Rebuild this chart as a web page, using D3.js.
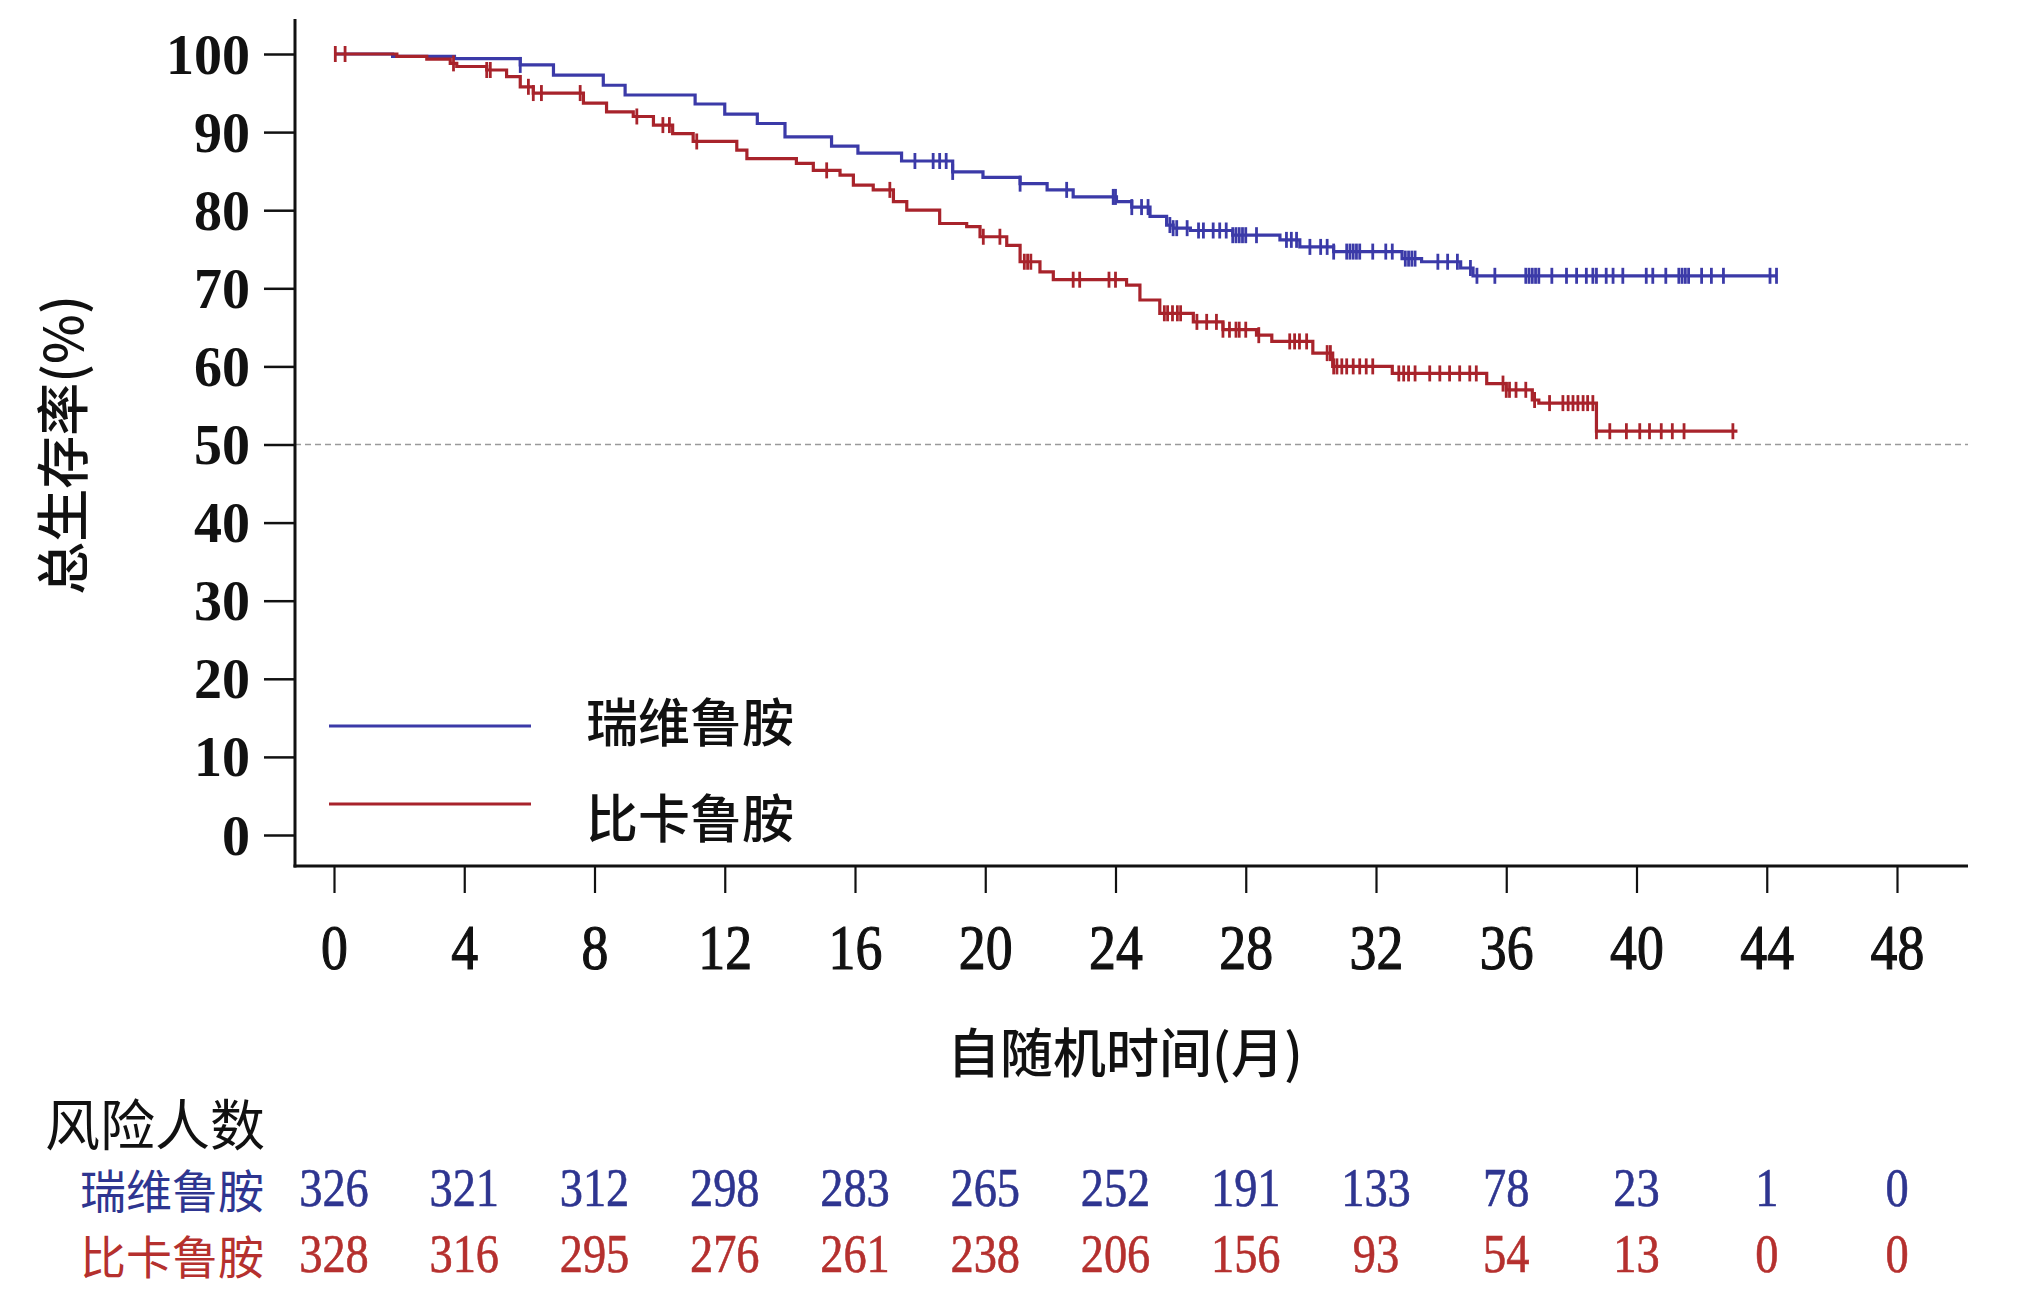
<!DOCTYPE html>
<html>
<head>
<meta charset="utf-8">
<script src="https://cdn.jsdelivr.net/npm/d3@7"></script>
<style>
  html, body { margin: 0; padding: 0; background: #fff; }
  svg { display: block; }
</style>
</head>
<body>
<div id="chart"></div>
<script>
// step points of each KM curve: [month, survival %]
const blueSteps = [[0,100],[1.8,99.7],[3.7,99.4],[5.72,98.6],[6.74,97.3],[8.27,96.0],[8.94,94.75],[11.09,93.6],[12.0,92.3],[13.0,91.1],[13.85,89.4],[15.28,88.2],[16.09,87.3],[17.43,86.3],[19.0,84.9],[19.93,84.2],[21.07,83.4],[21.9,82.6],[22.7,81.7],[24.03,81.1],[24.5,80.4],[25.06,79.2],[25.57,78.1],[25.77,77.7],[26.3,77.4],[27.6,76.8],[29.05,76.2],[29.66,75.3],[30.7,74.7],[32.8,73.8],[33.4,73.4],[34.6,72.6],[34.98,71.6],[44.3,71.6]];
const redSteps = [[0,100],[1.93,99.7],[2.85,99.35],[3.57,98.8],[3.77,98.4],[4.69,97.95],[5.3,97.1],[5.72,95.8],[6.12,95.0],[7.66,93.7],[8.37,92.6],[9.19,92.0],[9.81,90.9],[10.4,89.8],[11.03,88.8],[12.37,87.7],[12.68,86.6],[14.2,86.0],[14.72,85.1],[15.54,84.5],[15.95,83.2],[16.56,82.6],[17.18,81.1],[17.59,80.0],[18.6,78.3],[19.43,77.9],[19.84,76.6],[20.66,75.5],[21.07,73.4],[21.68,72.1],[22.09,71.1],[24.34,70.4],[24.75,68.5],[25.36,66.8],[26.39,65.7],[27.3,64.7],[28.33,64.0],[28.8,63.2],[30.06,61.7],[30.67,60.0],[32.5,59.1],[35.4,57.8],[36.0,57.0],[36.8,55.7],[37.0,55.3],[38.77,51.7],[43.1,51.7]];

// censor marks (months)
const blueCensor = [5.72,17.84,18.4,18.6,18.8,19.0,21.07,22.5,23.93,24.0,24.5,24.8,25.0,25.67,25.77,25.88,26.2,26.55,26.7,27.0,27.2,27.4,27.6,27.7,27.8,27.9,28.0,28.33,29.25,29.4,29.56,29.97,30.3,30.5,30.7,31.1,31.2,31.3,31.4,31.5,31.9,32.3,32.5,32.9,33.0,33.1,33.2,33.9,34.2,34.5,34.9,35.1,35.65,36.6,36.7,36.8,36.9,37.0,37.4,37.85,38.16,38.46,38.66,38.77,39.07,39.28,39.58,40.3,40.5,40.9,41.3,41.4,41.5,41.6,42.0,42.3,42.67,44.1,44.3];
const redCensor = [0.04,0.34,3.67,4.69,4.8,5.97,6.12,6.37,7.56,9.3,10.1,10.3,11.14,15.13,17.07,19.94,20.45,21.2,21.3,21.4,22.7,22.9,23.8,24.0,25.5,25.6,25.75,25.9,26.0,26.5,26.8,27.1,27.3,27.5,27.7,27.8,28.0,28.4,29.35,29.5,29.65,29.87,30.5,30.6,30.7,30.8,30.95,31.1,31.3,31.5,31.7,31.9,32.7,32.85,33.0,33.2,33.65,33.96,34.26,34.57,34.88,35.08,35.9,36.0,36.1,36.3,36.6,36.87,37.33,37.74,37.9,38.05,38.2,38.36,38.5,38.66,38.77,39.18,39.69,40.1,40.4,40.76,41.1,41.46,42.96];

const xTicks = [0,4,8,12,16,20,24,28,32,36,40,44,48];
const yTicks = [0,10,20,30,40,50,60,70,80,90,100];
const groups = ["瑞维鲁胺", "比卡鲁胺"];
const blueRisk = [326,321,312,298,283,265,252,191,133,78,23,1,0];
const redRisk = [328,316,295,276,261,238,206,156,93,54,13,0,0];

const W = 2021, H = 1294;
const lineBlue = "#3b3aa8", lineRed = "#a8232b";
const textBlue = "#2e3590", textRed = "#b5302e";
const serif = "'Liberation Serif', 'DejaVu Serif', serif";
const cjk = "'Noto Sans CJK SC', sans-serif";

const svg = d3.select("#chart").append("svg").attr("width", W).attr("height", H);
svg.append("rect").attr("width", W).attr("height", H).attr("fill", "#fff");

const x = d3.scaleLinear().domain([0, 48]).range([334, 1897]);
const y = d3.scaleLinear().domain([0, 100]).range([835, 54]);
const axisX0 = 295, axisY0 = 866, axisRight = 1968;

// reference line at 50%
svg.append("line")
  .attr("x1", axisX0).attr("x2", axisRight)
  .attr("y1", y(50)).attr("y2", y(50))
  .attr("stroke", "#9a9a9a").attr("stroke-width", 1.6).attr("stroke-dasharray", "6,4");

// y axis
const yAxis = svg.append("g").attr("transform", `translate(${axisX0},0)`)
  .call(d3.axisLeft(y).tickValues(yTicks).tickSize(31).tickPadding(14));
yAxis.select(".domain").remove();
yAxis.selectAll(".tick line").attr("stroke", "#111").attr("stroke-width", 2.5);
yAxis.selectAll(".tick text")
  .attr("font-family", serif).attr("font-size", 56).attr("font-weight", "bold")
  .attr("fill", "#111").attr("dy", "0.34em");
svg.append("line").attr("x1", axisX0).attr("x2", axisX0).attr("y1", 19).attr("y2", axisY0 + 1.5)
  .attr("stroke", "#111").attr("stroke-width", 3);

// x axis
const xAxis = svg.append("g").attr("transform", `translate(0,${axisY0})`)
  .call(d3.axisBottom(x).tickValues(xTicks).tickSize(27).tickPadding(0));
xAxis.select(".domain").remove();
xAxis.selectAll(".tick line").attr("stroke", "#111").attr("stroke-width", 2.2);
xAxis.selectAll(".tick text")
  .attr("font-family", serif).attr("font-size", 64)
  .attr("fill", "#111").attr("stroke", "#111").attr("stroke-width", 1.2)
  .attr("y", 103).attr("dy", 0)
  .attr("transform", "scale(0.84,1)");
svg.append("line").attr("x1", axisX0 - 1.5).attr("x2", axisRight).attr("y1", axisY0).attr("y2", axisY0)
  .attr("stroke", "#111").attr("stroke-width", 3);

// curves
const line = d3.line().x(d => x(d[0])).y(d => y(d[1])).curve(d3.curveStepAfter);
function survAt(steps, t) {
  let s = steps[0][1];
  for (const p of steps) { if (p[0] <= t) s = p[1]; else break; }
  return s;
}
function drawCurve(steps, censor, color) {
  svg.append("path").datum(steps).attr("d", line)
    .attr("fill", "none").attr("stroke", color).attr("stroke-width", 3.2);
  svg.append("g").selectAll("line").data(censor).join("line")
    .attr("x1", d => x(d)).attr("x2", d => x(d))
    .attr("y1", d => y(survAt(steps, d)) - 8).attr("y2", d => y(survAt(steps, d)) + 8)
    .attr("stroke", color).attr("stroke-width", 2.8);
}
drawCurve(blueSteps, blueCensor, lineBlue);
drawCurve(redSteps, redCensor, lineRed);

// axis titles
svg.append("text").attr("transform", "translate(60,445) rotate(-90)")
  .attr("text-anchor", "middle").attr("dominant-baseline", "central")
  .attr("font-family", cjk).attr("font-size", 53).attr("font-weight", 500).attr("fill", "#111")
  .text("总生存率(%)");
svg.append("text").attr("x", 1125).attr("y", 1050)
  .attr("text-anchor", "middle").attr("dominant-baseline", "central")
  .attr("font-family", cjk).attr("font-size", 53).attr("font-weight", 500).attr("fill", "#111")
  .text("自随机时间(月)");

// legend
const legend = svg.append("g");
[[lineBlue, 726, 719], [lineRed, 804, 815]].forEach((c, i) => {
  legend.append("line").attr("x1", 329).attr("x2", 531).attr("y1", c[1]).attr("y2", c[1])
    .attr("stroke", c[0]).attr("stroke-width", 2.8);
  legend.append("text").attr("x", 586).attr("y", c[2]).attr("dominant-baseline", "central")
    .attr("font-family", cjk).attr("font-size", 52).attr("font-weight", 500).attr("fill", "#111")
    .text(groups[i]);
});

// number at risk table
svg.append("text").attr("x", 45).attr("y", 1121).attr("dominant-baseline", "central")
  .attr("font-family", cjk).attr("font-size", 55).attr("fill", "#111").text("风险人数");
[[blueRisk, textBlue, 1188], [redRisk, textRed, 1254]].forEach((r, i) => {
  svg.append("text").attr("x", 264).attr("y", r[2]).attr("text-anchor", "end")
    .attr("dominant-baseline", "central")
    .attr("font-family", cjk).attr("font-size", 46).attr("fill", r[1]).text(groups[i]);
  svg.append("g").selectAll("text").data(r[0]).join("text")
    .attr("transform", (d, j) => `translate(${x(xTicks[j])},${r[2] + 18}) scale(0.86,1)`)
    .attr("text-anchor", "middle")
    .attr("font-family", serif).attr("font-size", 54).attr("fill", r[1])
    .attr("stroke", r[1]).attr("stroke-width", 0.6)
    .text(d => d);
});
</script>
</body>
</html>
